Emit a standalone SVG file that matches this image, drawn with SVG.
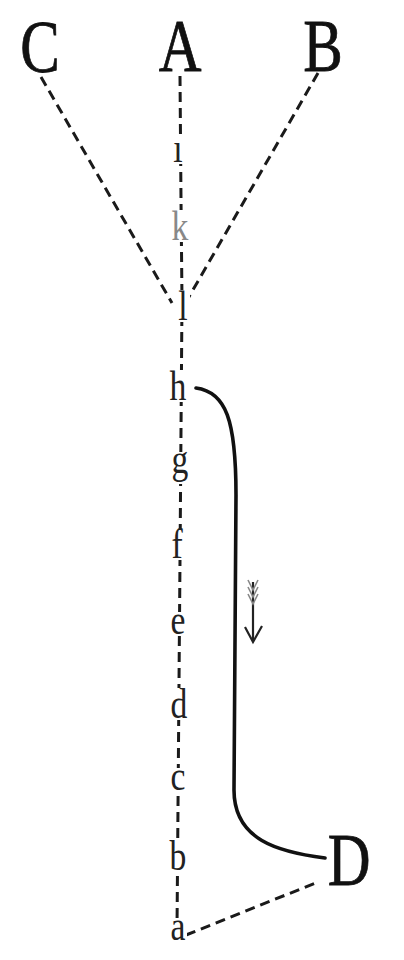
<svg xmlns="http://www.w3.org/2000/svg" width="404" height="960" viewBox="0 0 404 960">
<style>
.big{font-family:"Liberation Serif","DejaVu Serif",serif;font-size:74px;fill:#111;text-anchor:middle;stroke:#111;stroke-width:0.8}
.lab{font-family:"Liberation Serif","DejaVu Serif",serif;font-size:42px;fill:#222;text-anchor:middle}
.bg{fill:#fff}
.dash{fill:none;stroke:#1a1a1a;stroke-width:3;stroke-dasharray:10 6}
.solid{fill:none;stroke:#111;stroke-width:3.6;stroke-linecap:round}
</style>
<rect width="404" height="960" fill="#fff"/>
<g id="connectors">
<path class="dash" d="M180,76 L181,200 L182,300 L180,560 L177,930"/>
<path class="dash" d="M41,77 L172,303"/>
<path class="dash" d="M318,73 L186,302"/>
<path class="dash" d="M186,935 L318,882"/>
<path class="solid" d="M196,388 C226,392 236,420 236,495 L234,790 C234,840 278,852 325,858"/>
<g id="arrow">
<line x1="253" y1="582" x2="253" y2="640" stroke="#222" stroke-width="2.2"/>
<polyline points="245,627 253,642 262,626" fill="none" stroke="#222" stroke-width="2.2"/>
<path d="M248,580 L253,590 L258,580 M248,587 L253,597 L258,587 M248,594 L253,604 L258,594" fill="none" stroke="#888" stroke-width="1.6"/>
</g>
</g>
<g id="node-C"><text class="big" transform="translate(40,72) scale(0.8,1)">C</text></g>
<g id="node-A"><text class="big" transform="translate(180,71) scale(0.8,1)">A</text></g>
<g id="node-B"><text class="big" transform="translate(323,71) scale(0.8,1)">B</text></g>
<g id="node-D"><text class="big" transform="translate(349,885) scale(0.8,1)">D</text></g>
<g id="node-i"><rect class="bg" x="172" y="140" width="12" height="24"/><text class="lab" transform="translate(178,162) scale(0.8,1)">ı</text></g>
<g id="node-k"><rect class="bg" x="170" y="210" width="20" height="32"/><text class="lab" transform="translate(180,240) scale(0.8,1)" style="fill:#888">k</text></g>
<g id="node-l"><rect class="bg" x="176" y="290" width="14" height="32"/><text class="lab" transform="translate(183,320) scale(0.8,1)">l</text></g>
<g id="node-h"><rect class="bg" x="168" y="370" width="20" height="32"/><text class="lab" transform="translate(178,400) scale(0.8,1)">h</text></g>
<g id="node-g"><rect class="bg" x="170" y="452" width="20" height="32"/><text class="lab" transform="translate(180,473) scale(0.8,1)">g</text></g>
<g id="node-f"><rect class="bg" x="169" y="530" width="16" height="30"/><text class="lab" transform="translate(177,558) scale(0.8,1)">f</text></g>
<g id="node-e"><rect class="bg" x="169" y="612" width="18" height="24"/><text class="lab" transform="translate(178,634) scale(0.8,1)">e</text></g>
<g id="node-d"><rect class="bg" x="169" y="688" width="20" height="32"/><text class="lab" transform="translate(179,718) scale(0.8,1)">d</text></g>
<g id="node-c"><rect class="bg" x="169" y="768" width="18" height="24"/><text class="lab" transform="translate(178,790) scale(0.8,1)">c</text></g>
<g id="node-b"><rect class="bg" x="168" y="840" width="20" height="32"/><text class="lab" transform="translate(178,870) scale(0.8,1)">b</text></g>
<g id="node-a"><rect class="bg" x="169" y="918" width="18" height="24"/><text class="lab" transform="translate(178,940) scale(0.8,1)">a</text></g>
</svg>
